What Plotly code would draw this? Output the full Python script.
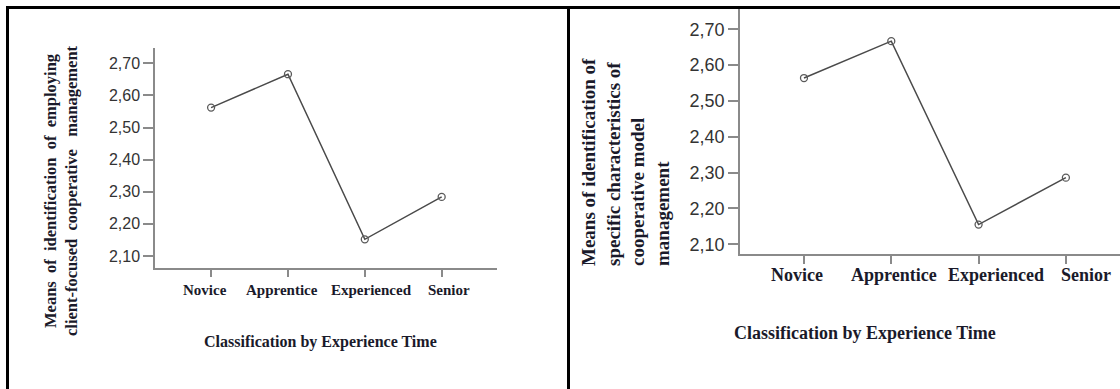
import plotly.graph_objects as go

W, H = 1120, 389

categories = ["Novice", "Apprentice", "Experienced", "Senior"]
means_client_focused = [2.562, 2.666, 2.152, 2.284]
means_specific_chars = [2.564, 2.667, 2.155, 2.286]
y_ticks = [2.10, 2.20, 2.30, 2.40, 2.50, 2.60, 2.70]

left_ytitle = ("Means  of  identification  of  employing<br>"
               "client-focused  cooperative   management")
right_ytitle = ("Means of identification of<br>specific characteristics of<br>"
                "cooperative model<br>management")
xtitle = "Classification by Experience Time"

def px(x):
    return x / W

def py(y):
    return 1 - y / H

SERIF = "Liberation Serif, Times New Roman, serif"
SANS = "Liberation Sans, Arial, sans-serif"
AXIS_GRAY = "#8a8a8a"
TXT = "#1a1a2a"

fig = go.Figure()

line_style = dict(color="#4a4a4a", width=1.5)
marker_style = dict(symbol="circle-open", size=7, color="#5a5a5a", line=dict(width=1.3))

fig.add_trace(go.Scatter(x=categories, y=means_client_focused, mode="lines+markers",
                         line=line_style, marker=marker_style, xaxis="x", yaxis="y",
                         showlegend=False, hoverinfo="skip"))
fig.add_trace(go.Scatter(x=categories, y=means_specific_chars, mode="lines+markers",
                         line=line_style, marker=marker_style, xaxis="x2", yaxis="y2",
                         showlegend=False, hoverinfo="skip"))

def xaxis(domain, rng):
    return dict(domain=domain, range=rng, type="category", showline=True,
                linecolor=AXIS_GRAY, linewidth=1.5, ticks="outside", ticklen=8,
                tickcolor=AXIS_GRAY, tickwidth=1.5, showgrid=False, zeroline=False,
                showticklabels=False, fixedrange=True)

def yaxis(domain, rng, anchor, size):
    return dict(domain=domain, range=rng, anchor=anchor, showline=True,
                linecolor=AXIS_GRAY, linewidth=1.5, ticks="outside", ticklen=10,
                tickcolor=AXIS_GRAY, tickwidth=1.5, showgrid=False, zeroline=False,
                tickvals=y_ticks, tickformat=".2f",
                tickfont=dict(family=SANS, size=size, color="#333333"),
                fixedrange=True)

fig.update_layout(
    width=W, height=H,
    margin=dict(l=0, r=0, t=0, b=0),
    paper_bgcolor="white", plot_bgcolor="white",
    separators=",.",
    xaxis=dict(**xaxis([px(155), px(497)], [-0.73, 3.72]), anchor="y"),
    yaxis=yaxis([py(267.7), py(48)], [2.0636, 2.7476], "x", 16),
    xaxis2=dict(**xaxis([px(740), 1.0], [-0.733, 3.62]), anchor="y2"),
    yaxis2=yaxis([py(254), py(9)], [2.0729, 2.7567], "x2", 18),
)

annotations = [
    dict(text=left_ytitle, x=px(61), y=py(191), xref="paper", yref="paper",
         textangle=-90, showarrow=False, xanchor="center", yanchor="middle",
         font=dict(family=SERIF, size=16.5, color=TXT, weight="bold"), align="center"),
    dict(text=right_ytitle, x=px(625), y=py(162), xref="paper", yref="paper",
         textangle=-90, showarrow=False, xanchor="center", yanchor="middle",
         font=dict(family=SERIF, size=19, color=TXT, weight="bold"), align="left"),
    dict(text=xtitle, x=px(320), y=py(342), xref="paper", yref="paper",
         showarrow=False, xanchor="center", yanchor="middle",
         font=dict(family=SERIF, size=16, color=TXT, weight="bold")),
    dict(text=xtitle, x=px(865), y=py(333), xref="paper", yref="paper",
         showarrow=False, xanchor="center", yanchor="middle",
         font=dict(family=SERIF, size=18, color=TXT, weight="bold")),
]

# category labels under each axis (slightly spread, as in the scanned original)
left_shift = [-6, -6, 7, 7]
right_shift = [-7, 3, 17, 20]
for cat, s in zip(categories, left_shift):
    annotations.append(dict(text=cat, x=cat, xref="x", y=py(290), yref="paper",
                            xshift=s, showarrow=False, xanchor="center", yanchor="middle",
                            font=dict(family=SERIF, size=15, color=TXT, weight="bold")))
for cat, s in zip(categories, right_shift):
    annotations.append(dict(text=cat, x=cat, xref="x2", y=py(275), yref="paper",
                            xshift=s, showarrow=False, xanchor="center", yanchor="middle",
                            font=dict(family=SERIF, size=18, color=TXT, weight="bold")))

fig.update_layout(annotations=annotations)

border = dict(color="black", width=3)
fig.update_layout(shapes=[
    dict(type="line", xref="paper", yref="paper", x0=px(6), x1=1, y0=py(7.5), y1=py(7.5), line=border),
    dict(type="line", xref="paper", yref="paper", x0=px(7.5), x1=px(7.5), y0=py(6), y1=0, line=border),
    dict(type="line", xref="paper", yref="paper", x0=px(568.5), x1=px(568.5), y0=py(6), y1=0, line=border),
])

fig.write_html("out.html", config={"displayModeBar": False},
               post_script="document.body.style.margin='0';document.body.style.overflow='hidden';")
